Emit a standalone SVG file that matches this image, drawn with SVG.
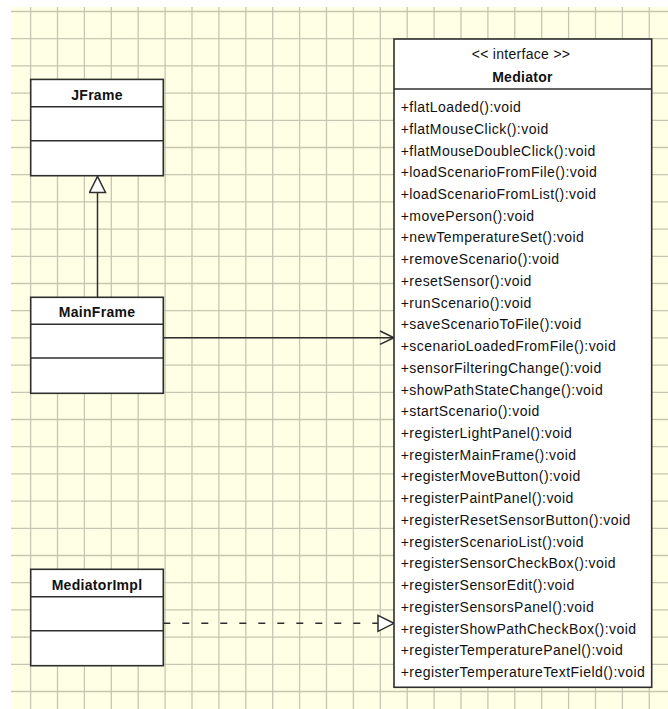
<svg xmlns="http://www.w3.org/2000/svg" width="668" height="709" viewBox="0 0 668 709">
<style>
.bg{fill:#FFFFE5}
.grid{stroke:#C6C6B2;stroke-width:1.3;fill:none}
.box{fill:#FFFFFF;stroke:#2E2E2E;stroke-width:1.6}
.div{stroke:#2E2E2E;stroke-width:1.6}
.t{font-family:"Liberation Sans",Arial,sans-serif;font-size:14px;fill:#111;letter-spacing:0.45px}
.b{font-weight:bold;text-anchor:middle;letter-spacing:0.3px}
.c{text-anchor:middle;letter-spacing:0.3px}
.conn{stroke:#2E2E2E;stroke-width:1.5;fill:none}
.dash{stroke-dasharray:7 12}
</style>
<defs>
<marker id="tri" markerUnits="userSpaceOnUse" markerWidth="20" markerHeight="20" refX="17" refY="9" orient="auto">
<path d="M1,1 L17,9 L1,17 Z" fill="#FFFFFF" stroke="#2E2E2E" stroke-width="1.5"/>
</marker>
<marker id="open" markerUnits="userSpaceOnUse" markerWidth="18" markerHeight="18" refX="15" refY="8" orient="auto">
<path d="M1,1.3 L15,8 L1,14.7" fill="none" stroke="#2E2E2E" stroke-width="1.5"/>
</marker>
</defs>
<rect x="0" y="0" width="668" height="709" fill="#FFFFFF"/>
<rect class="bg" x="11" y="7" width="657" height="702"/>
<path class="grid" d="M30.6 7V709M57.5 7V709M84.4 7V709M111.3 7V709M138.2 7V709M165.1 7V709M192 7V709M218.9 7V709M245.8 7V709M272.7 7V709M299.6 7V709M326.5 7V709M353.4 7V709M380.3 7V709M407.2 7V709M434.1 7V709M461 7V709M487.9 7V709M514.8 7V709M541.7 7V709M568.6 7V709M595.5 7V709M622.4 7V709M649.3 7V709
M11 11.5H668M11 38.7H668M11 65.9H668M11 93.1H668M11 120.3H668M11 147.5H668M11 174.7H668M11 201.9H668M11 229.1H668M11 256.3H668M11 283.5H668M11 310.7H668M11 337.9H668M11 365.1H668M11 392.3H668M11 419.5H668M11 446.7H668M11 473.9H668M11 501.1H668M11 528.3H668M11 555.5H668M11 582.7H668M11 609.9H668M11 637.1H668M11 664.3H668M11 691.5H668"/>

<g id="connectors">
<line class="conn" x1="97.5" y1="297.3" x2="97.5" y2="176.5" marker-end="url(#tri)"/>
<line class="conn" x1="163.3" y1="337.7" x2="394" y2="337.7" marker-end="url(#open)"/>
<line class="conn dash" x1="163.3" y1="623.3" x2="378" y2="623.3"/>
<line class="conn" x1="377" y1="623.3" x2="394" y2="623.3" stroke-opacity="0" marker-end="url(#tri)"/>
</g>

<g id="JFrame">
<rect class="box" x="30.7" y="79.4" width="132.6" height="96.3"/>
<line class="div" x1="30.7" y1="106.7" x2="163.3" y2="106.7"/>
<line class="div" x1="30.7" y1="140.7" x2="163.3" y2="140.7"/>
<text class="t b" x="97" y="100">JFrame</text>
</g>

<g id="MainFrame">
<rect class="box" x="30.7" y="297.3" width="132.6" height="96"/>
<line class="div" x1="30.7" y1="324.3" x2="163.3" y2="324.3"/>
<line class="div" x1="30.7" y1="358" x2="163.3" y2="358"/>
<text class="t b" x="97" y="317">MainFrame</text>
</g>

<g id="MediatorImpl">
<rect class="box" x="30.7" y="569.3" width="132.6" height="96.4"/>
<line class="div" x1="30.7" y1="596.7" x2="163.3" y2="596.7"/>
<line class="div" x1="30.7" y1="630.7" x2="163.3" y2="630.7"/>
<text class="t b" x="97" y="590">MediatorImpl</text>
</g>

<g id="Mediator">
<rect class="box" x="394" y="39" width="257.7" height="648.3"/>
<line class="div" x1="394" y1="89" x2="651.7" y2="89"/>
<text class="t c" x="521" y="59">&lt;&lt; interface &gt;&gt;</text>
<text class="t b" x="522.5" y="82">Mediator</text>
<text class="t" x="400.7" y="112">+flatLoaded():void</text>
<text class="t" x="400.7" y="133.7">+flatMouseClick():void</text>
<text class="t" x="400.7" y="155.5">+flatMouseDoubleClick():void</text>
<text class="t" x="400.7" y="177.2">+loadScenarioFromFile():void</text>
<text class="t" x="400.7" y="198.9">+loadScenarioFromList():void</text>
<text class="t" x="400.7" y="220.7">+movePerson():void</text>
<text class="t" x="400.7" y="242.4">+newTemperatureSet():void</text>
<text class="t" x="400.7" y="264.1">+removeScenario():void</text>
<text class="t" x="400.7" y="285.8">+resetSensor():void</text>
<text class="t" x="400.7" y="307.6">+runScenario():void</text>
<text class="t" x="400.7" y="329.3">+saveScenarioToFile():void</text>
<text class="t" x="400.7" y="351">+scenarioLoadedFromFile():void</text>
<text class="t" x="400.7" y="372.8">+sensorFilteringChange():void</text>
<text class="t" x="400.7" y="394.5">+showPathStateChange():void</text>
<text class="t" x="400.7" y="416.2">+startScenario():void</text>
<text class="t" x="400.7" y="438">+registerLightPanel():void</text>
<text class="t" x="400.7" y="459.7">+registerMainFrame():void</text>
<text class="t" x="400.7" y="481.4">+registerMoveButton():void</text>
<text class="t" x="400.7" y="503.1">+registerPaintPanel():void</text>
<text class="t" x="400.7" y="524.9">+registerResetSensorButton():void</text>
<text class="t" x="400.7" y="546.6">+registerScenarioList():void</text>
<text class="t" x="400.7" y="568.3">+registerSensorCheckBox():void</text>
<text class="t" x="400.7" y="590.1">+registerSensorEdit():void</text>
<text class="t" x="400.7" y="611.8">+registerSensorsPanel():void</text>
<text class="t" x="400.7" y="633.5">+registerShowPathCheckBox():void</text>
<text class="t" x="400.7" y="655.3">+registerTemperaturePanel():void</text>
<text class="t" x="400.7" y="677">+registerTemperatureTextField():void</text>
</g>
</svg>
